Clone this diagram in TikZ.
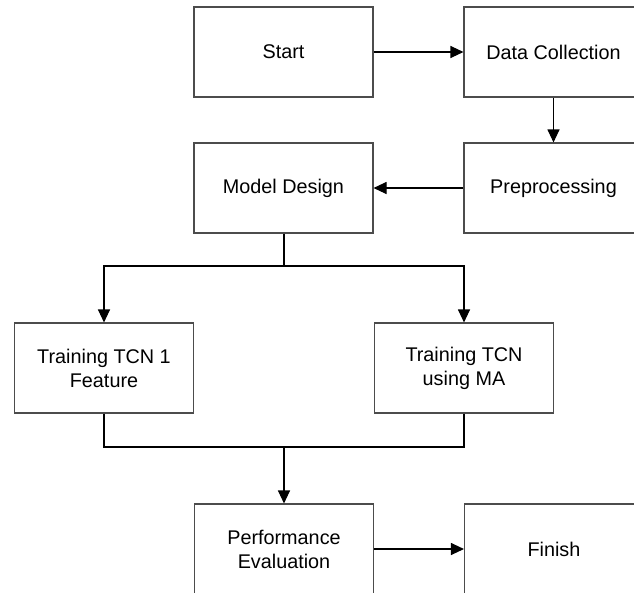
\documentclass[tikz,border=0pt]{standalone}
\usepackage{fontspec}
\setmainfont{Liberation Sans}
\usetikzlibrary{arrows.meta}
\begin{document}
\begin{tikzpicture}[x=1pt,y=-1pt,
  box/.style={draw=black!70, line width=1.1pt, fill=white, rectangle, inner sep=0pt,
    minimum width=179pt, minimum height=90pt, align=center,
    font=\fontsize{19.8}{24}\selectfont},
  conn/.style={draw=black, line width=1.1pt},
  arr/.style={conn, -{Triangle[length=13pt, width=12pt]}}]
\useasboundingbox (0,0) rectangle (634,592);
\clip (0,0) rectangle (634,592);
\node[box] (start) at (283.5,52) {Start};
\node[box] (dc) at (553.5,52) {Data Collection};
\node[box] (pre) at (553.5,188) {Preprocessing};
\node[box] (md) at (283.5,188) {Model Design};
\node[box] (t1) at (104,368) {Training TCN 1\\Feature};
\node[box] (t2) at (464,368) {Training TCN\\using MA};
\node[box] (pe) at (284,549) {Performance\\Evaluation};
\node[box] (fin) at (554,549) {Finish};
\coordinate (br) at (284,266);
\coordinate (mg) at (284,447);
\draw[arr] (start) -- (dc);
\draw[arr] (dc) -- (pre);
\draw[arr] (pre) -- (md);
\draw[conn] (md.south -| br) -- (br);
\draw[arr] (br) -| (t1.north);
\draw[arr] (br) -| (t2.north);
\draw[conn] (t1.south) |- (mg);
\draw[conn] (t2.south) |- (mg);
\draw[arr] (mg) -- (pe.north);
\draw[arr] (pe) -- (fin);
\end{tikzpicture}
\end{document}
